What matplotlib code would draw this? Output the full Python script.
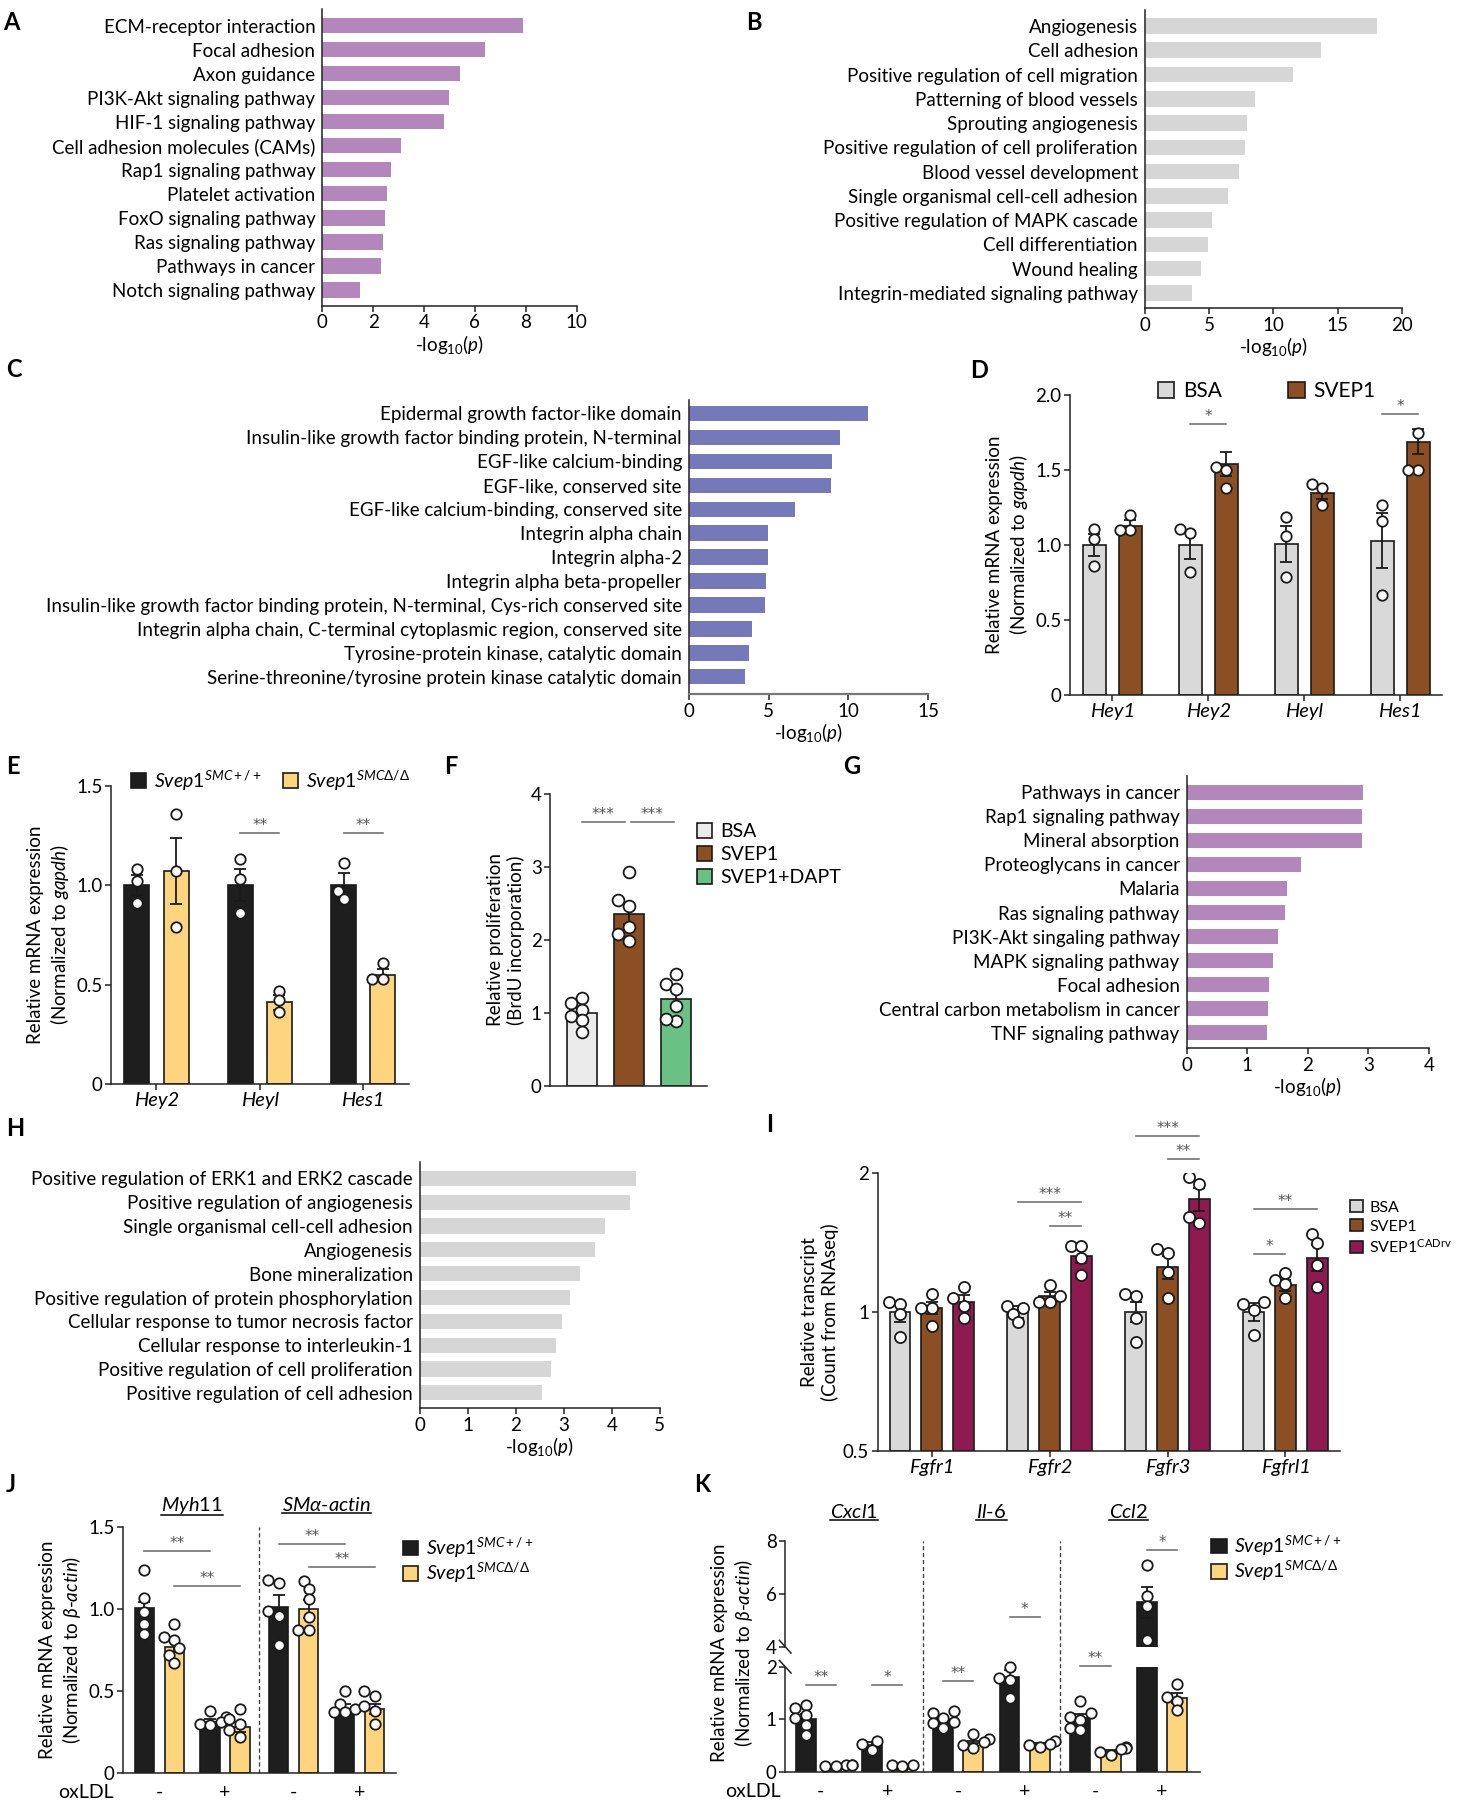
import numpy as np
import matplotlib
matplotlib.use('Agg')
import matplotlib.pyplot as plt
from matplotlib.patches import Patch
from matplotlib.lines import Line2D
from matplotlib.ticker import NullLocator

plt.rcParams['font.family'] = ['Lato', 'DejaVu Sans']
plt.rcParams['mathtext.fontset'] = 'custom'
plt.rcParams['mathtext.rm'] = 'Lato'
plt.rcParams['mathtext.it'] = 'Lato:italic'
plt.rcParams['mathtext.bf'] = 'Lato:bold'
plt.rcParams['mathtext.fallback'] = 'stixsans'
plt.rcParams['axes.unicode_minus'] = False

# ---------------- data ----------------
a_terms = ['ECM-receptor interaction', 'Focal adhesion', 'Axon guidance', 'PI3K-Akt signaling pathway',
           'HIF-1 signaling pathway', 'Cell adhesion molecules (CAMs)', 'Rap1 signaling pathway',
           'Platelet activation', 'FoxO signaling pathway', 'Ras signaling pathway',
           'Pathways in cancer', 'Notch signaling pathway']
a_vals = [7.9, 6.38, 5.43, 5.0, 4.77, 3.1, 2.71, 2.53, 2.46, 2.39, 2.33, 1.5]

b_terms = ['Angiogenesis', 'Cell adhesion', 'Positive regulation of cell migration',
           'Patterning of blood vessels', 'Sprouting angiogenesis',
           'Positive regulation of cell proliferation', 'Blood vessel development',
           'Single organismal cell-cell adhesion', 'Positive regulation of MAPK cascade',
           'Cell differentiation', 'Wound healing', 'Integrin-mediated signaling pathway']
b_vals = [18.1, 13.7, 11.56, 8.58, 7.94, 7.76, 7.32, 6.46, 5.24, 4.88, 4.34, 3.7]

c_terms = ['Epidermal growth factor-like domain',
           'Insulin-like growth factor binding protein, N-terminal',
           'EGF-like calcium-binding', 'EGF-like, conserved site',
           'EGF-like calcium-binding, conserved site', 'Integrin alpha chain',
           'Integrin alpha-2', 'Integrin alpha beta-propeller',
           'Insulin-like growth factor binding protein, N-terminal, Cys-rich conserved site',
           'Integrin alpha chain, C-terminal cytoplasmic region, conserved site',
           'Tyrosine-protein kinase, catalytic domain',
           'Serine-threonine/tyrosine protein kinase catalytic domain']
c_vals = [11.2, 9.5, 8.96, 8.89, 6.68, 4.98, 4.98, 4.82, 4.79, 3.95, 3.76, 3.53]

g_terms = ['Pathways in cancer', 'Rap1 signaling pathway', 'Mineral absorption',
           'Proteoglycans in cancer', 'Malaria', 'Ras signaling pathway',
           'PI3K-Akt singaling pathway', 'MAPK signaling pathway', 'Focal adhesion',
           'Central carbon metabolism in cancer', 'TNF signaling pathway']
g_vals = [2.92, 2.89, 2.89, 1.89, 1.66, 1.62, 1.51, 1.43, 1.36, 1.35, 1.33]

h_terms = ['Positive regulation of ERK1 and ERK2 cascade', 'Positive regulation of angiogenesis',
           'Single organismal cell-cell adhesion', 'Angiogenesis', 'Bone mineralization',
           'Positive regulation of protein phosphorylation',
           'Cellular response to tumor necrosis factor', 'Cellular response to interleukin-1',
           'Positive regulation of cell proliferation', 'Positive regulation of cell adhesion']
h_vals = [4.5, 4.38, 3.86, 3.65, 3.33, 3.13, 2.96, 2.83, 2.74, 2.55]

# D: BSA vs SVEP1
d_genes = ['Hey1', 'Hey2', 'Heyl', 'Hes1']
d_bsa_mean = [1.0, 1.0, 1.01, 1.03]
d_bsa_sem = [0.075, 0.095, 0.12, 0.185]
d_bsa_pts = [[1.11, 1.04, 0.86], [1.11, 1.08, 0.82], [1.19, 1.06, 0.79], [1.27, 1.16, 0.67]]
d_svep_mean = [1.13, 1.54, 1.35, 1.69]
d_svep_sem = [0.04, 0.08, 0.045, 0.085]
d_svep_pts = [[1.2, 1.1, 1.1], [1.52, 1.5, 1.38], [1.41, 1.38, 1.27], [1.75, 1.5, 1.5]]

# E: Svep1 SMC+/+ vs SMCΔ/Δ
e_genes = ['Hey2', 'Heyl', 'Hes1']
e_wt_mean = [1.0, 1.0, 1.0]
e_wt_sem = [0.05, 0.08, 0.06]
e_wt_pts = [[1.08, 1.02, 0.91], [1.13, 1.03, 0.86], [1.11, 0.97, 0.93]]
e_ko_mean = [1.07, 0.41, 0.55]
e_ko_sem = [0.165, 0.04, 0.03]
e_ko_pts = [[1.36, 1.07, 0.79], [0.47, 0.42, 0.36], [0.61, 0.53, 0.53]]

# F: proliferation
f_groups = ['BSA', 'SVEP1', 'SVEP1+DAPT']
f_mean = [1.0, 2.36, 1.19]
f_sem = [0.07, 0.14, 0.11]
f_pts = [[1.21, 1.04, 1.14, 0.96, 0.9, 0.74],
         [2.94, 2.47, 2.55, 2.18, 2.08, 1.98],
         [1.54, 1.39, 1.33, 1.09, 0.89, 0.92]]

# I: RNAseq counts
i_genes = ['Fgfr1', 'Fgfr2', 'Fgfr3', 'Fgfrl1']
i_bsa_mean = [1.0, 1.0, 1.0, 1.0]
i_bsa_sem = [0.05, 0.03, 0.05, 0.045]
i_bsa_pts = [[1.05, 1.04, 0.99, 0.88], [1.03, 1.02, 0.99, 0.95], [1.08, 1.09, 0.97, 0.86], [1.05, 1.04, 1.01, 0.89]]
i_svep_mean = [1.02, 1.08, 1.25, 1.14]
i_svep_sem = [0.03, 0.025, 0.07, 0.03]
i_svep_pts = [[1.09, 1.02, 0.93, 1.02], [1.14, 1.05, 1.05, 1.08], [1.34, 1.37, 1.22, 1.07], [1.17, 1.21, 1.15, 1.07]]
i_cad_mean = [1.05, 1.32, 1.75, 1.31]
i_cad_sem = [0.035, 0.045, 0.1, 0.085]
i_cad_pts = [[1.13, 1.07, 1.03, 0.97], [1.39, 1.39, 1.31, 1.2], [1.89, 1.96, 1.56, 1.6], [1.47, 1.41, 1.26, 1.13]]

# J: Myh11 / SMa-actin, order WT-, KO-, WT+, KO+ per gene
j_genes = ['Myh11', 'SMα-actin']
j_mean = [1.005, 0.77, 0.31, 0.28, 1.01, 1.0, 0.383, 0.389]
j_sem = [0.04, 0.035, 0.02, 0.03, 0.075, 0.055, 0.035, 0.03]
j_pts = [[1.24, 1.07, 0.98, 0.91, 0.85], [0.91, 0.83, 0.81, 0.76, 0.72, 0.67],
         [0.38, 0.34, 0.31, 0.3, 0.29], [0.39, 0.33, 0.3, 0.26, 0.22],
         [1.18, 1.16, 0.99, 0.96, 0.78], [1.17, 1.12, 1.06, 0.95, 0.87, 0.87],
         [0.5, 0.42, 0.39, 0.37, 0.37], [0.5, 0.47, 0.41, 0.38, 0.3]]

# K: Cxcl1 / Il-6 / Ccl2, order WT-, KO-, WT+, KO+ per gene
k_genes = ['Cxcl1', 'Il-6', 'Ccl2']
k_mean = [1.0, 0.05, 0.51, 0.05, 1.0, 0.54, 1.81, 0.51, 1.02, 0.38, 5.68, 1.4]
k_sem = [0.1, 0.02, 0.06, 0.02, 0.05, 0.05, 0.13, 0.03, 0.08, 0.04, 0.58, 0.1]
k_pts = [[1.27, 1.21, 1.08, 1.02, 0.89, 0.7], [0.12, 0.12, 0.11, 0.13, 0.11], [0.58, 0.52, 0.42], [0.12, 0.13, 0.11],
         [1.16, 1.11, 1.02, 0.95, 0.92, 0.83], [0.72, 0.63, 0.57, 0.51, 0.46], [2.0, 1.78, 1.75, 1.4], [0.58, 0.53, 0.5, 0.48],
         [1.35, 1.11, 1.05, 0.98, 0.83, 0.79], [0.48, 0.46, 0.43, 0.38, 0.32], [7.1, 5.92, 5.54, 4.25], [1.67, 1.43, 1.35, 1.17]]
oxldl = ['-', '+']

# ---------------- style ----------------
W, H = 1463, 1800
FS = 13.5
LEG = 14
EDGE = '#1a1a1a'
PURPLE = '#b386bc'
GREY = '#d6d6d6'
BLUE = '#7579ba'
C_BSA = '#d9d9d9'
C_SVEP = '#8b4f23'
C_CAD = '#8e1a4f'
C_DAPT = '#69c283'
C_BSA_F = '#ebebeb'
C_WT = '#1e1e1e'
C_KO = '#fdd57e'

fig = plt.figure(figsize=(W / 100, H / 100), dpi=100)


def px_ax(l, t, r, b):
    return fig.add_axes([l / W, 1 - b / H, (r - l) / W, (b - t) / H])


def clean(ax, lw=1.1):
    for s in ('top', 'right'):
        ax.spines[s].set_visible(False)
    for s in ('left', 'bottom'):
        ax.spines[s].set_linewidth(lw)
        ax.spines[s].set_color('#222222')
    ax.tick_params(length=4, width=lw, labelsize=FS, color='#222222', pad=2)


def enrich(box, terms, vals, color, xmax, step, pads):
    ax = px_ax(*box)
    clean(ax)
    y = np.arange(len(terms))
    ax.barh(y, vals, height=0.64, color=color, zorder=2)
    ax.set_yticks(y, terms, fontsize=FS)
    ax.tick_params(axis='y', length=0, pad=5)
    ax.set_ylim(len(terms) - 1 + pads[1], -pads[0])
    ax.set_xlim(0, xmax)
    ax.set_xticks(np.arange(0, xmax + step / 2, step))
    ax.set_xlabel(r'-log$_{10}$($\mathit{p}$)', fontsize=FS, labelpad=1)
    return ax


def swarm_x(ax, xc, vals, d=10.5):
    vals = np.asarray(vals, float)
    pix = ax.transData.transform(np.column_stack([np.full(len(vals), xc), vals]))
    placed = []
    out = np.empty(len(vals))
    for i in np.argsort(vals):
        px, py = pix[i]
        for k in (0, -1, 1, -2, 2, -3, 3):
            cx = px + k * d * 0.5
            if all(np.hypot(cx - qx, py - qy) >= 0.9 * d for qx, qy in placed):
                break
        placed.append((cx, py))
        out[i] = cx
    return ax.transData.inverted().transform(np.column_stack([out, pix[:, 1]]))[:, 0]


def group_bars(ax, xs, means, sems, pts, colors, width, ms=7.5, base=0.0, show=None):
    means = np.asarray(means, float)
    ax.bar(xs, means - base, bottom=base, width=width, color=colors, edgecolor=EDGE,
           linewidth=1.2, zorder=2)
    ax.errorbar(xs, means, yerr=sems, fmt='none', ecolor=EDGE, elinewidth=1.3,
                capsize=4.5, capthick=1.3, zorder=3)
    for x, p in zip(xs, pts):
        p = np.asarray(p, float)
        px = swarm_x(ax, x, p)
        if show is None:
            ax.plot(px, p, 'o', ms=ms, mfc='white', mec=EDGE, mew=1.3, zorder=4)
        else:
            keep = (p >= show[0]) & (p <= show[1])
            ax.plot(px[keep], p[keep], 'o', ms=ms, mfc='white', mec=EDGE, mew=1.3,
                    zorder=4, clip_on=False)


def sig(ax, x1, x2, y, txt):
    ax.plot([x1, x2], [y, y], color='#666666', lw=1.1, clip_on=False, zorder=5)
    ax.annotate(txt, ((x1 + x2) / 2, y), xytext=(0, 0), textcoords='offset points',
                ha='center', va='bottom', fontsize=11, family='DejaVu Sans',
                color='#555555', annotation_clip=False)


def square_legend(items, x, y, ncol=1, colsp=1.0, lsp=0.25, fs=LEG):
    handles = [Patch(facecolor=c, edgecolor=EDGE, linewidth=1.2, label=l) for c, l in items]
    fig.legend(handles=handles, loc='center left', bbox_to_anchor=(x / W, 1 - y / H), ncol=ncol,
               frameon=False, fontsize=fs, handlelength=0.8, handleheight=0.8,
               handletextpad=0.4, columnspacing=colsp, labelspacing=lsp,
               borderpad=0, borderaxespad=0)


def letter(x, y, s):
    fig.text(x / W, 1 - y / H, s, fontsize=17, fontweight='bold', ha='left', va='center')


WT_LAB = r'$\mathit{Svep1}^{\mathit{SMC+/+}}$'
KO_LAB = r'$\mathit{Svep1}^{\mathit{SMC\Delta/\Delta}}$'
MRNA = 'Relative mRNA expression\n(Normalized to $\\mathit{gapdh}$)'
MRNA_B = 'Relative mRNA expression\n(Normalized to $\\mathit{\\beta}$-$\\mathit{actin}$)'

# ---------------- A, B, C, G, H ----------------
enrich((322.2, 9.3, 576.7, 306), a_terms, a_vals, PURPLE, 10, 2, (0.68, 0.67))
enrich((1144.9, 10, 1401.7, 308.3), b_terms, b_vals, GREY, 20, 5, (0.66, 0.64))
axC = enrich((688.9, 400, 928.2, 694.3), c_terms, c_vals, BLUE, 15, 5, (0.56, 0.73))
axC.spines['bottom'].set_color('#777777')
axC.spines['bottom'].set_linewidth(1.6)
enrich((1186.5, 776, 1428.8, 1048.3), g_terms, g_vals, PURPLE, 4, 1, (0.68, 0.65))
enrich((419.6, 1161.7, 659.8, 1408.3), h_terms, h_vals, GREY, 5, 1, (0.7, 0.65))

# ---------------- D ----------------
axD = px_ax(1070, 395, 1442.3, 695)
clean(axD)
axD.set_xlim(-0.44, 3.44)
axD.set_ylim(0, 2)
gx = np.arange(len(d_genes))
group_bars(axD, gx - 0.1875, d_bsa_mean, d_bsa_sem, d_bsa_pts, C_BSA, 0.24)
group_bars(axD, gx + 0.1875, d_svep_mean, d_svep_sem, d_svep_pts, C_SVEP, 0.24)
axD.set_xticks(gx, d_genes, style='italic', fontsize=14.5)
axD.set_yticks([0, 0.5, 1, 1.5, 2], ['0', '0.5', '1.0', '1.5', '2.0'])
axD.set_ylabel(MRNA, fontsize=FS, labelpad=4)
sig(axD, 1 - 0.1875, 1 + 0.1875, 1.81, '*')
sig(axD, 3 - 0.1875, 3 + 0.1875, 1.876, '*')
square_legend([(C_BSA, 'BSA'), (C_SVEP, 'SVEP1')], 1157.7, 391, ncol=2, colsp=3.2, fs=15)

# ---------------- E ----------------
axE = px_ax(111, 785.7, 408.7, 1084)
clean(axE)
axE.set_xlim(-0.44, 2.44)
axE.set_ylim(0, 1.5)
ex = np.arange(len(e_genes))
group_bars(axE, ex - 0.19, e_wt_mean, e_wt_sem, e_wt_pts, C_WT, 0.24)
group_bars(axE, ex + 0.19, e_ko_mean, e_ko_sem, e_ko_pts, C_KO, 0.24)
axE.set_xticks(ex, e_genes, style='italic', fontsize=14.5)
axE.set_yticks([0, 0.5, 1, 1.5], ['0', '0.5', '1.0', '1.5'])
axE.set_ylabel(MRNA, fontsize=FS, labelpad=4)
sig(axE, 1 - 0.19, 1 + 0.19, 1.26, '**')
sig(axE, 2 - 0.19, 2 + 0.19, 1.26, '**')
square_legend([(C_WT, WT_LAB), (C_KO, KO_LAB)], 130.7, 780.5, ncol=2, colsp=1.1)

# ---------------- F ----------------
axF = px_ax(550, 794.3, 706.7, 1085.7)
clean(axF)
axF.set_xlim(-0.67, 2.65)
axF.set_ylim(0, 4)
fx = np.arange(len(f_groups))
group_bars(axF, fx, f_mean, f_sem, f_pts, [C_BSA_F, C_SVEP, C_DAPT], 0.64, ms=8.5)
axF.set_xticks([])
axF.set_yticks([0, 1, 2, 3, 4])
axF.set_ylabel('Relative proliferation\n(BrdU incorporation)', fontsize=FS, labelpad=4)
sig(axF, 0, 0.92, 3.62, '***')
sig(axF, 1.04, 1.96, 3.62, '***')
square_legend([(C_BSA_F, 'BSA'), (C_SVEP, 'SVEP1'), (C_DAPT, 'SVEP1+DAPT')], 696.7, 854.4, lsp=0.3)

# ---------------- I ----------------
axI = px_ax(877.5, 1172.7, 1339.7, 1450.7)
clean(axI)
axI.set_yscale('log', base=2)
axI.set_xlim(-0.46, 3.46)
axI.set_ylim(0.5, 2)
ix = np.arange(len(i_genes))
group_bars(axI, ix - 0.27, i_bsa_mean, i_bsa_sem, i_bsa_pts, C_BSA, 0.175, ms=8, base=0.5)
group_bars(axI, ix, i_svep_mean, i_svep_sem, i_svep_pts, C_SVEP, 0.175, ms=8, base=0.5)
group_bars(axI, ix + 0.27, i_cad_mean, i_cad_sem, i_cad_pts, C_CAD, 0.175, ms=8, base=0.5)
axI.set_yticks([0.5, 1, 2], ['0.5', '1', '2'])
axI.yaxis.set_minor_locator(NullLocator())
axI.set_xticks(ix, i_genes, style='italic', fontsize=14.5)
axI.set_ylabel('Relative transcript\n(Count from RNAseq)', fontsize=FS, labelpad=3)
sig(axI, 1 - 0.27, 1 + 0.27, 1.73, '***')
sig(axI, 1, 1 + 0.27, 1.535, '**')
sig(axI, 2 - 0.27, 2 + 0.27, 2.4, '***')
sig(axI, 2, 2 + 0.27, 2.14, '**')
sig(axI, 3 - 0.27, 3 + 0.27, 1.67, '**')
sig(axI, 3 - 0.27, 3, 1.335, '*')
square_legend([(C_BSA, 'BSA'), (C_SVEP, 'SVEP1'), (C_CAD, r'SVEP1$^{\mathrm{CADrv}}$')],
              1350, 1227.8, lsp=0.25, fs=11.5)

headers = []

# ---------------- J ----------------
axJ = px_ax(123.2, 1527.3, 395.7, 1772.7)
clean(axJ)
j_pos = np.array([0, 1, 2.2, 3.2, 4.5, 5.5, 6.7, 7.7])
axJ.set_xlim(-0.7, 8.4)
axJ.set_ylim(0, 1.5)
group_bars(axJ, j_pos, j_mean, j_sem, j_pts, [C_WT, C_KO] * 4, 0.64)
axJ.axvline(3.85, color='#444444', ls=(0, (3, 2)), lw=1)
axJ.set_xticks([])
axJ.set_yticks([0, 0.5, 1, 1.5], ['0', '0.5', '1.0', '1.5'])
axJ.set_ylabel(MRNA_B, fontsize=FS, labelpad=4)
sig(axJ, j_pos[0], j_pos[2], 1.357, '**')
sig(axJ, j_pos[1], j_pos[3], 1.141, '**')
sig(axJ, j_pos[4], j_pos[6], 1.396, '**')
sig(axJ, j_pos[5], j_pos[7], 1.255, '**')
trJ = axJ.get_xaxis_transform()
j_head = [r'$\mathit{Myh11}$', r'$\mathit{SM\alpha}$-$\mathit{actin}$']
for gi in range(2):
    p = j_pos[gi * 4:gi * 4 + 4]
    headers.append(axJ.text(p.mean(), 1.09, j_head[gi], transform=trJ, ha='center',
                            va='center', fontsize=14.5))
    for si in range(2):
        axJ.text(p[si * 2:si * 2 + 2].mean(), -0.079, oxldl[si], transform=trJ,
                 ha='center', va='center', fontsize=14)
axJ.text(-1.96, -0.079, 'oxLDL', transform=trJ, ha='center', va='center', fontsize=14)
square_legend([(C_WT, WT_LAB), (C_KO, KO_LAB)], 402.5, 1560.4, lsp=0.05)

# ---------------- K (broken axis) ----------------
axKl = px_ax(785.2, 1666.7, 1199.7, 1771.7)
axKu = px_ax(785.2, 1541, 1199.7, 1646.7)
k_pos = np.array([0, 1, 2.2, 3.2, 4.55, 5.55, 6.75, 7.75, 9.1, 10.1, 11.3, 12.3])
for ax, lim, vis in ((axKl, (0, 2), (0, 2.1)), (axKu, (4, 8), (3.9, 8))):
    clean(ax)
    ax.set_xlim(-0.68, 13.05)
    ax.set_ylim(*lim)
    group_bars(ax, k_pos, k_mean, k_sem, k_pts, [C_WT, C_KO] * 6, 0.66, show=vis)
    ax.set_xticks([])
axKu.spines['bottom'].set_visible(False)
axKl.set_yticks([0, 1, 2])
axKu.set_yticks([4, 6, 8])
for xv in (3.87, 8.43):
    axKl.axvline(xv, ymax=1.19, color='#444444', ls=(0, (3, 2)), lw=1, clip_on=False)
    axKu.axvline(xv, color='#444444', ls=(0, (3, 2)), lw=1)
# break marks
axKu.plot([-0.014, 0.014], [0.06, -0.06], color='#222222', lw=1.1, transform=axKu.transAxes, clip_on=False)
axKl.plot([-0.014, 0.014], [1.06, 0.94], color='#222222', lw=1.1, transform=axKl.transAxes, clip_on=False)
sig(axKl, k_pos[0], k_pos[1], 1.66, '**')
sig(axKl, k_pos[2], k_pos[3], 1.66, '*')
sig(axKl, k_pos[4], k_pos[5], 1.73, '**')
sig(axKu, k_pos[6], k_pos[7], 5.14, '*')
sig(axKl, k_pos[8], k_pos[9], 2.02, '**')
sig(axKu, k_pos[10], k_pos[11], 7.67, '*')
trKu = axKu.get_xaxis_transform()
trKl = axKl.get_xaxis_transform()
k_head = [r'$\mathit{Cxcl1}$', r'$\mathit{Il}$-$\mathit{6}$', r'$\mathit{Ccl2}$']
for gi in range(3):
    p = k_pos[gi * 4:gi * 4 + 4]
    headers.append(axKu.text(p.mean(), 1.277, k_head[gi], transform=trKu, ha='center',
                             va='center', fontsize=14.5))
    for si in range(2):
        axKl.text(p[si * 2:si * 2 + 2].mean(), -0.19, oxldl[si], transform=trKl,
                  ha='center', va='center', fontsize=14)
axKl.text(-1.75, -0.19, 'oxLDL', transform=trKl, ha='center', va='center', fontsize=14)
fig.text(733 / W, 1 - 1653 / H, MRNA_B, rotation=90, ha='center', va='center',
         fontsize=FS, multialignment='center')
square_legend([(C_WT, WT_LAB), (C_KO, KO_LAB)], 1211, 1558.4, lsp=0.05)

# ---------------- panel letters ----------------
for s, x, y in (('A', 3, 22), ('B', 746, 22), ('C', 6, 370), ('D', 970, 371),
                ('E', 6, 767), ('F', 444, 767), ('G', 843, 767), ('H', 6, 1128),
                ('I', 766, 1125), ('J', 6, 1484), ('K', 694, 1484)):
    letter(x, y, s)

# underline the gene headers in J and K
fig.canvas.draw()
rend = fig.canvas.get_renderer()
inv = fig.transFigure.inverted()
for t in headers:
    bb = t.get_window_extent(rend)
    (x0, y0), (x1, _) = inv.transform([(bb.x0, bb.y0 + 1), (bb.x1, bb.y0 + 1)])
    fig.add_artist(Line2D([x0, x1], [y0, y0], color='black', lw=1.1, transform=fig.transFigure))

fig.savefig('out.png', dpi=100)
